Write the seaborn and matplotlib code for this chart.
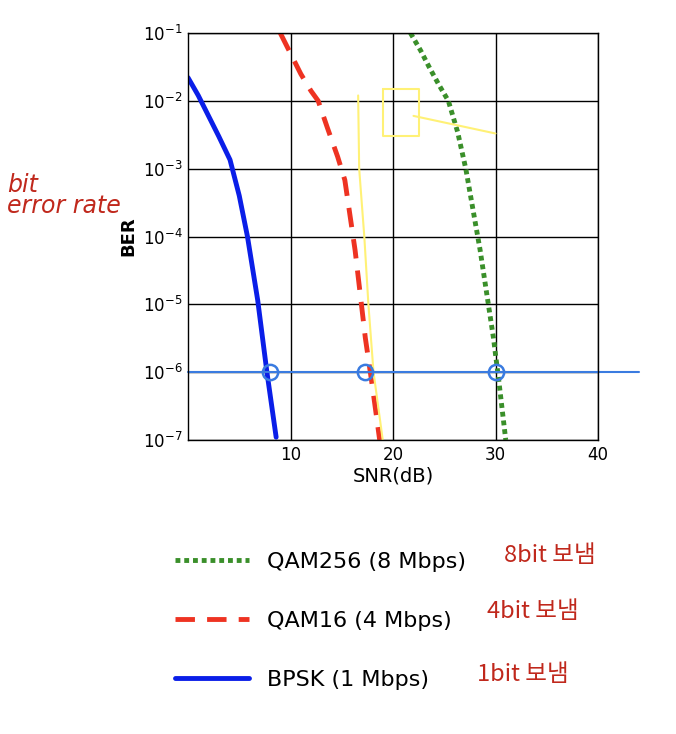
import numpy as np
import pandas as pd
import matplotlib
matplotlib.use("Agg")
import matplotlib.pyplot as plt
import seaborn as sns

# values
bpsk_snr = [0.0, 1.0, 2.0, 3.0, 4.1, 5.0, 5.8, 6.8, 7.7, 8.6]
bpsk_ber = [2.2e-2, 1.2e-2, 6e-3, 3e-3, 1.35e-3, 4e-4, 1e-4, 1.15e-5, 1e-6, 1.1e-7]
qam16_snr = [9.0, 10.0, 11.0, 12.0, 12.7, 13.6, 14.6, 15.3, 16.3, 17.3, 18.0, 18.7]
qam16_ber = [1e-1, 5e-2, 2.5e-2, 1.4e-2, 1e-2, 4e-3, 1.5e-3, 6.8e-4, 6.3e-5, 3.2e-6, 6e-7, 1e-7]
qam256_snr = [21.7, 22.7, 23.6, 24.5, 25.4, 26.3, 27.1, 28.5, 29.8, 30.3, 31.0]
qam256_ber = [1e-1, 5.5e-2, 3e-2, 1.7e-2, 1e-2, 3.5e-3, 1e-3, 6.3e-5, 3.2e-6, 8e-7, 1e-7]

series = {
    "QAM256 (8 Mbps)": (qam256_snr, qam256_ber),
    "QAM16 (4 Mbps)": (qam16_snr, qam16_ber),
    "BPSK (1 Mbps)": (bpsk_snr, bpsk_ber),
}
styles = {
    "QAM256 (8 Mbps)": dict(color="#3a8f2a", ls=(0, (1, 0.8))),
    "QAM16 (4 Mbps)": dict(color="#ee3322", ls=(0, (4, 2.5))),
    "BPSK (1 Mbps)": dict(color="#0a1ee8", ls="-"),
}

sns.set_theme(style="white")
plt.rcParams["font.family"] = ["DejaVu Sans", "Noto Sans CJK KR"]

fig = plt.figure(figsize=(6.76, 7.34), dpi=100)
ax = fig.add_axes([188 / 676, 1 - 440 / 734, 410 / 676, 407 / 734])

handles = []
for name, (x, y) in series.items():
    df = pd.DataFrame({"snr": x, "ber": y})
    sns.lineplot(data=df, x="snr", y="ber", ax=ax, lw=3.5, color=styles[name]["color"],
                 sort=False, estimator=None)
    ax.lines[-1].set_linestyle(styles[name]["ls"])
    handles.append(ax.lines[-1])

ax.set_yscale("log")
ax.set_xlim(0, 40)
ax.set_ylim(1e-7, 1e-1)
ax.set_xticks([10, 20, 30, 40])
ax.set_yticks([10.0 ** -k for k in range(1, 8)])
ax.minorticks_off()
ax.grid(True, color="black", lw=1)
for s in ax.spines.values():
    s.set_color("black")
    s.set_linewidth(1)
ax.tick_params(labelsize=12, length=0, pad=4, colors="black")
ax.set_xlabel("SNR(dB)", fontsize=14, labelpad=2, color="black")
ax.set_ylabel("BER", fontsize=13, fontweight="bold", color="black")

# handwritten-style annotations
ax.plot([16.6, 16.7, 17.2, 17.6, 18.1, 19.0], [1.2e-2, 1e-3, 1e-4, 1e-5, 1e-6, 1e-7],
        color="#fff176", lw=1.5)
ax.plot([19.0, 22.5, 22.5, 19.0, 19.0], [1.5e-2, 1.5e-2, 3e-3, 3e-3, 1.5e-2], color="#fff176", lw=1.5)
ax.plot([22.0, 30.0], [6e-3, 3.3e-3], color="#fff176", lw=1.5)
ax.plot([0, 44], [1e-6, 1e-6], color="#3a7be0", lw=1.5, clip_on=False)
for xc in [8.0, 17.3, 30.0]:
    ax.plot(xc, 1e-6, "o", mfc="none", mec="#3a7be0", ms=11, mew=1.8, clip_on=False)

fig.text(0.01, 0.71, "bit\nerror rate", color="#c0281c", fontsize=17, style="italic",
         linespacing=0.85)

leg = fig.legend(handles, list(series.keys()), loc="upper left", bbox_to_anchor=(0.23, 0.275),
                 frameon=False, fontsize=16, handlelength=3.3, labelspacing=1.75,
                 handletextpad=0.8)
for t in leg.get_texts():
    t.set_color("black")
for yy, xx, t in [(0.235, 0.745, "8bit 보냄"), (0.158, 0.72, "4bit 보냄"), (0.072, 0.705, "1bit 보냄")]:
    fig.text(xx, yy, t, color="#c0281c", fontsize=17,
             family=["Noto Sans CJK KR", "DejaVu Sans"])

fig.savefig("out.png", dpi=100)
